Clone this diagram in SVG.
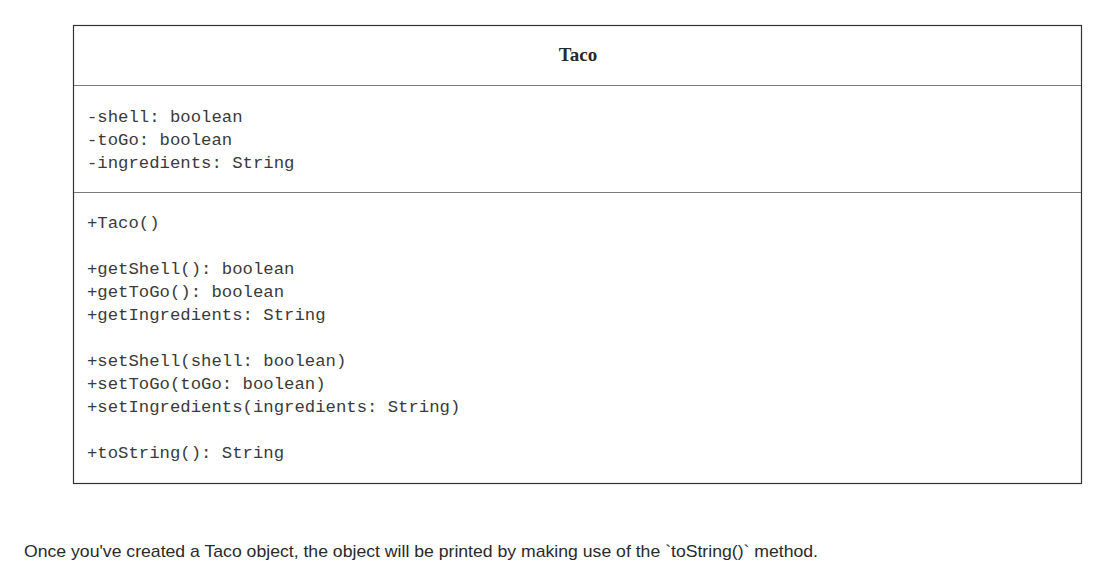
<svg xmlns="http://www.w3.org/2000/svg" width="1116" height="572" viewBox="0 0 1116 572">
<style>
.mono{font-family:"Liberation Mono","Courier New",monospace;font-size:17.3px;fill:#3a3a3a}
.title{font-family:"Liberation Serif","Times New Roman",serif;font-size:19px;font-weight:bold;fill:#2a2a2a}
.div{stroke:#7a7a7a;stroke-width:1.2}
.note{font-family:"Liberation Sans",Arial,sans-serif;font-size:17px;fill:#2a2a2a}
</style>
<rect width="1116" height="572" fill="#fff"/>
<g id="taco">
<rect x="73.5" y="25.5" width="1008" height="458" fill="#fff" stroke="#333" stroke-width="1.2"/>
<line class="div" x1="74" y1="85.5" x2="1081" y2="85.5"/>
<line class="div" x1="74" y1="192.5" x2="1081" y2="192.5"/>
<text class="title" x="578" y="61" text-anchor="middle">Taco</text>
<text class="mono" x="87" y="122">-shell: boolean</text>
<text class="mono" x="87" y="145">-toGo: boolean</text>
<text class="mono" x="87" y="168">-ingredients: String</text>
<text class="mono" x="87" y="228">+Taco()</text>
<text class="mono" x="87" y="274">+getShell(): boolean</text>
<text class="mono" x="87" y="297">+getToGo(): boolean</text>
<text class="mono" x="87" y="320">+getIngredients: String</text>
<text class="mono" x="87" y="366">+setShell(shell: boolean)</text>
<text class="mono" x="87" y="389">+setToGo(toGo: boolean)</text>
<text class="mono" x="87" y="412">+setIngredients(ingredients: String)</text>
<text class="mono" x="87" y="458">+toString(): String</text>
</g>
<g id="connectors"/>
<text class="note" x="24" y="557" textLength="794" lengthAdjust="spacingAndGlyphs">Once you've created a Taco object, the object will be printed by making use of the `toString()` method.</text>
</svg>
